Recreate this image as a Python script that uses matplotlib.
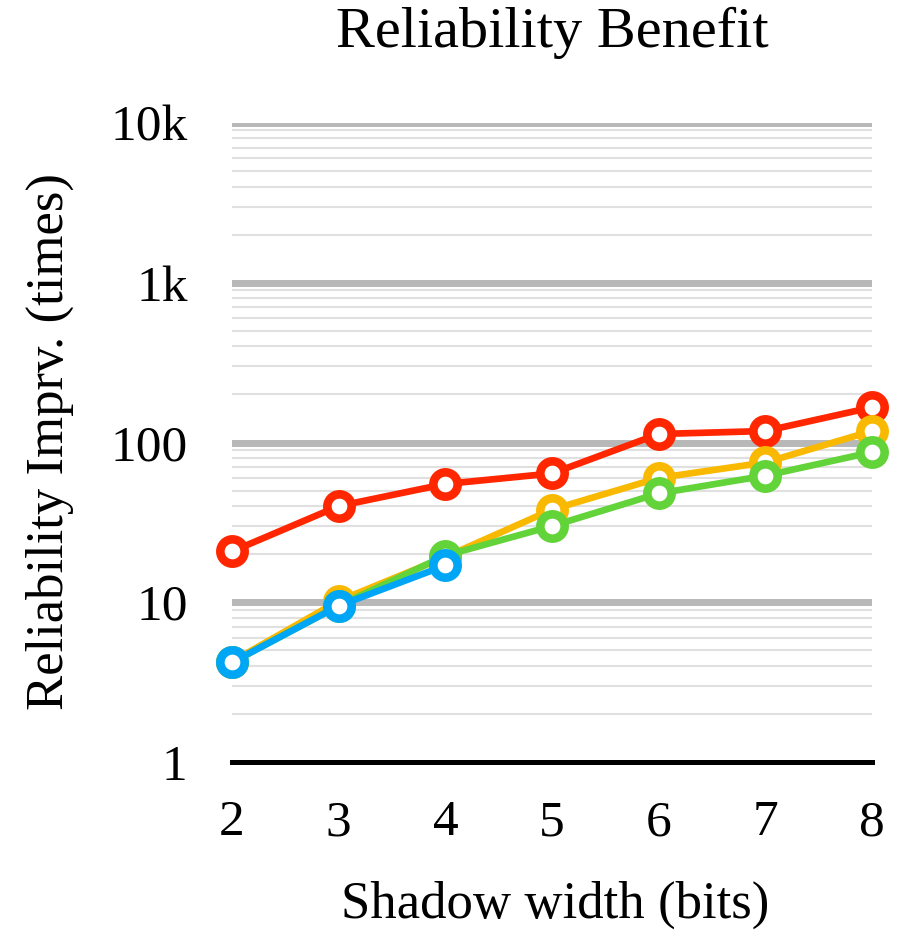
import matplotlib
matplotlib.use("Agg")
import matplotlib.pyplot as plt
from matplotlib.ticker import FixedLocator, NullFormatter

plt.rcParams['font.family'] = ['Liberation Serif', 'DejaVu Serif']

widths = [2, 3, 4, 5, 6, 7, 8]
red_vals = [20.8, 40, 55, 64, 113, 118, 166]
yellow_vals = [4.25, 10.2, 19.2, 38, 60, 75, 118]
green_vals = [4.2, 9.5, 19.6, 30, 48, 62, 87]
blue_widths = [2, 3, 4]
blue_vals = [4.2, 9.5, 17.0]

y_ticks = [1, 10, 100, 1000, 10000]
y_ticklabels = ["1", "10", "100", "1k", "10k"]

W, H = 915, 934
fig = plt.figure(figsize=(W / 100, H / 100), dpi=100)
ax = fig.add_axes([232 / W, (H - 762) / H, (872 - 232) / W, (762 - 123) / H])
ax.set_yscale('log')
ax.set_ylim(1, 10000)
ax.set_xlim(2, 8)

# grid
minor = [m * 10 ** e for e in range(0, 4) for m in range(2, 10)]
ax.yaxis.set_minor_locator(FixedLocator(minor))
ax.yaxis.set_minor_formatter(NullFormatter())
ax.yaxis.set_major_locator(FixedLocator(y_ticks))
ax.set_yticklabels(y_ticklabels)
ax.grid(which='minor', axis='y', color='#e0e0e0', lw=1.5, zorder=0)
ax.grid(which='major', visible=False)
for yv in y_ticks[1:]:
    ax.axhline(yv, color='#b8b8b8', lw=5, zorder=0.6)

for s in ['top', 'right', 'left']:
    ax.spines[s].set_visible(False)
ax.spines['bottom'].set_linewidth(3.6)
ax.spines['bottom'].set_color('black')
ax.spines['bottom'].set_zorder(1)

ax.set_xticks(widths)
ax.set_xticklabels([str(w) for w in widths])
ax.tick_params(axis='both', which='both', length=0)
ax.tick_params(axis='y', labelsize=37, pad=32)
ax.tick_params(axis='x', labelsize=37, pad=27)

style = dict(lw=4.8, marker='o', markersize=17.5, markeredgewidth=6.2,
             markerfacecolor='white', clip_on=False)
ax.plot(widths, red_vals, color='#FF2600', zorder=3, **style)
ax.plot(widths, yellow_vals, color='#F9B900', zorder=4, **style)
ax.plot(widths, green_vals, color='#63D33A', zorder=5, **style)
ax.plot(blue_widths, blue_vals, color='#00A6F6', zorder=6, **style)

fig.text(552 / W, 1 - 33 / H, "Reliability Benefit", ha='center', va='center', fontsize=42)
fig.text(555 / W, 1 - 905 / H, "Shadow width (bits)", ha='center', va='center', fontsize=38)
fig.text(50 / W, 1 - 441 / H, "Reliability Imprv. (times)", ha='center', va='center',
         rotation=90, fontsize=38)

fig.savefig("out.png", dpi=100)
